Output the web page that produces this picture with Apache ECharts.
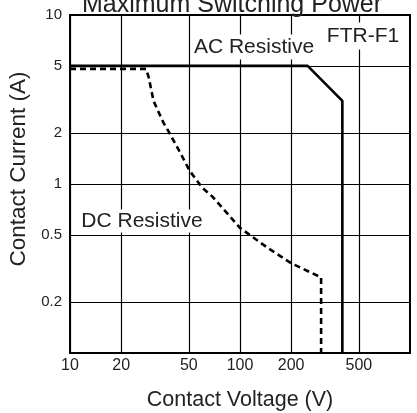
<!DOCTYPE html>
<html>
<head>
<meta charset="utf-8">
<script src="https://cdn.jsdelivr.net/npm/echarts@6/dist/echarts.min.js"></script>
<style>
  html, body { margin: 0; padding: 0; background: #fff; }
  #chart { width: 417px; height: 413px; }
</style>
</head>
<body>
<div id="chart"></div>
<script>
// Tick values
const xTicks = [10, 20, 50, 100, 200, 500];
const yTicks = [0.2, 0.5, 1, 2, 5, 10];

// AC Resistive (solid)
const acVoltage = [10, 250, 400, 400];
const acCurrent = [5, 5, 3.1, 0.1];

// DC Resistive (dashed)
const dcVoltage = [10, 28, 29, 31, 35.5, 38, 43.5, 50.5, 60, 69, 100, 145, 200, 300, 300];
const dcCurrent = [4.8, 4.8, 4.3, 3.1, 2.3, 2.05, 1.6, 1.2, 0.95, 0.84, 0.55, 0.42, 0.34, 0.28, 0.1];

const pair = (xs, ys) => xs.map((x, i) => [x, ys[i]]);
const FONT = 'Liberation Sans, Arial, sans-serif';
const TXT = '#222';

const chart = echarts.init(document.getElementById('chart'));
chart.setOption({
  animation: false,
  backgroundColor: '#fff',
  title: {
    text: 'Maximum Switching Power',
    left: 82, top: -7, padding: 0,
    textStyle: { fontSize: 25, fontWeight: 'normal', color: TXT, fontFamily: FONT }
  },
  grid: {
    left: 70, right: 7, top: 15, bottom: 60,
    outerBoundsMode: 'none', containLabel: false,
    show: true, borderColor: '#000', borderWidth: 2, backgroundColor: 'transparent'
  },
  xAxis: {
    type: 'log', logBase: 10, min: 10, max: 1000,
    name: 'Contact Voltage (V)', nameLocation: 'middle', nameGap: 36,
    nameTextStyle: { fontSize: 21.5, color: TXT, fontFamily: FONT },
    axisLine: { show: false },
    axisTick: { show: false, customValues: xTicks },
    axisLabel: { customValues: xTicks, fontSize: 16, color: TXT, fontFamily: FONT, margin: 5 },
    splitLine: { show: true, lineStyle: { color: '#000', width: 1.2 } },
    minorTick: { show: false }, minorSplitLine: { show: false }
  },
  yAxis: {
    type: 'log', logBase: 10, min: 0.1, max: 10,
    name: 'Contact Current (A)', nameLocation: 'middle', nameGap: 28,
    nameTextStyle: { fontSize: 22.5, color: TXT, fontFamily: FONT, padding: [0, 0, 0, 30] },
    axisLine: { show: false },
    axisTick: { show: false, customValues: yTicks },
    axisLabel: { customValues: yTicks, fontSize: 15, color: TXT, fontFamily: FONT, margin: 8 },
    splitLine: { show: true, lineStyle: { color: '#000', width: 1.2 } },
    minorTick: { show: false }, minorSplitLine: { show: false }
  },
  series: [
    {
      name: 'AC Resistive', type: 'line', data: pair(acVoltage, acCurrent),
      showSymbol: false, symbol: 'none', z: 5,
      lineStyle: { color: '#000', width: 2.6, type: 'solid' }
    },
    {
      name: 'DC Resistive', type: 'line', data: pair(dcVoltage, dcCurrent),
      showSymbol: false, symbol: 'none', z: 5,
      lineStyle: { color: '#000', width: 2.6, type: [6, 4], cap: 'butt' }
    }
  ],
  graphic: [
    { type: 'text', z: 10, style: { text: 'AC Resistive', x: 254, y: 47, align: 'center', verticalAlign: 'middle',
      font: '21px ' + FONT, fill: TXT, backgroundColor: '#fff', padding: [2, 2] } },
    { type: 'text', z: 10, style: { text: 'FTR-F1', x: 363, y: 36, align: 'center', verticalAlign: 'middle',
      font: '21px ' + FONT, fill: TXT, backgroundColor: '#fff', padding: [3, 3] } },
    { type: 'text', z: 10, style: { text: 'DC Resistive', x: 142, y: 221, align: 'center', verticalAlign: 'middle',
      font: '21px ' + FONT, fill: TXT, backgroundColor: '#fff', padding: [1, 2] } }
  ]
});
</script>
</body>
</html>
